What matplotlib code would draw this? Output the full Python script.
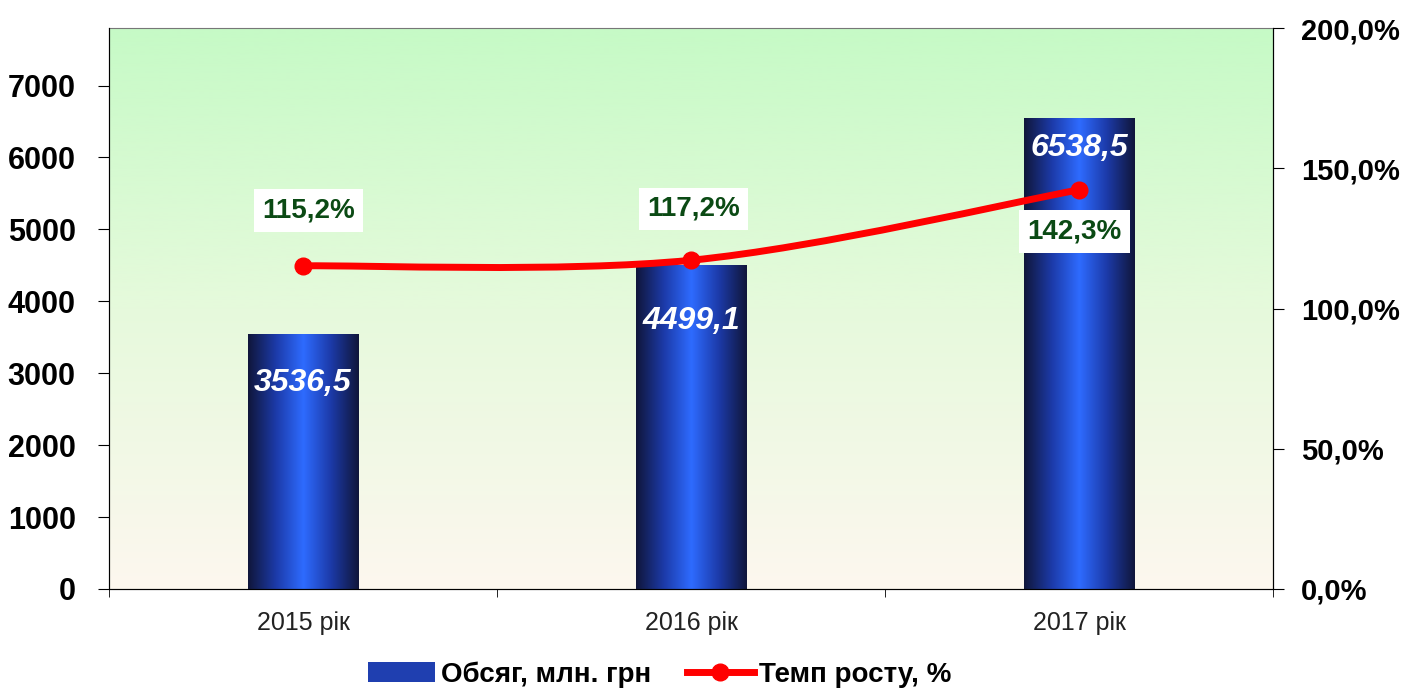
import numpy as np
import matplotlib
matplotlib.use("Agg")
import matplotlib.pyplot as plt
from matplotlib.path import Path
from matplotlib.patches import PathPatch, Patch
from matplotlib.colors import LinearSegmentedColormap
from matplotlib.lines import Line2D

years = ['2015 рік', '2016 рік', '2017 рік']
volume = [3536.5, 4499.1, 6538.5]
growth = [115.2, 117.2, 142.3]
volume_labels = ['3536,5', '4499,1', '6538,5']
growth_labels = ['115,2%', '117,2%', '142,3%']

plt.rcParams['font.family'] = ['Liberation Sans', 'DejaVu Sans']

fig = plt.figure(figsize=(14.1, 6.91), dpi=100)
ax = fig.add_axes([109 / 1410, 1 - 589 / 691, (1273 - 109) / 1410, (589 - 28) / 691])
ax2 = ax.twinx()

x = np.arange(len(years))

# background gradient
bg = LinearSegmentedColormap.from_list('bg', ['#fdf7ef', '#e6fadc', '#c6fac6'])
ax.imshow(np.linspace(0, 1, 256).reshape(-1, 1), cmap=bg, aspect='auto',
          extent=[0, 1, 0, 1], transform=ax.transAxes, origin='lower', zorder=0)

# bars with horizontal gradient
barcm = LinearSegmentedColormap.from_list('bar', ['#10163a', '#1c3aa8', '#2e6bff', '#1c3aa8', '#10163a'])
bars = ax.bar(x, volume, width=0.286, color='none', zorder=2)
grad = np.linspace(0, 1, 256).reshape(1, -1)
for b in bars:
    ax.imshow(grad, cmap=barcm, aspect='auto', zorder=2,
              extent=[b.get_x(), b.get_x() + b.get_width(), 0, b.get_height()])

# value labels inside bars (offset below bar top, in points)
lab_off = [-35, -40, -21]
for xi, v, lab, dy in zip(x, volume, volume_labels, lab_off):
    ax.annotate(lab, (xi, v), xytext=(0, dy), textcoords='offset points',
                ha='center', va='center', color='white',
                fontsize=23, fontweight='bold', style='italic', zorder=5)

ax.set_xlim(-0.5, 2.5)
ax.set_ylim(0, 7800)
ax.set_yticks(range(0, 8000, 1000))
ax.set_xticks(x)
ax.set_xticklabels(years, fontsize=18, color='#222222')
ax.tick_params(axis='y', labelsize=22, length=8, direction='out', pad=16)
ax.tick_params(axis='x', length=0, pad=16)
for t in ax.get_yticklabels():
    t.set_fontweight('bold')
ax.set_xticks([-0.5, 0.5, 1.5, 2.5], minor=True)
ax.tick_params(axis='x', which='minor', length=6)

# growth line, smoothed (bezier through the data points)
ax2.set_ylim(0, 200)
pts = np.column_stack([x, growth]).astype(float)
verts = [tuple(pts[0])]
codes = [Path.MOVETO]
t = 1 / 6
for i in range(len(pts) - 1):
    p0 = pts[i - 1] if i > 0 else pts[i]
    p1, p2 = pts[i], pts[i + 1]
    p3 = pts[i + 2] if i + 2 < len(pts) else pts[i + 1]
    c1 = p1 + (p2 - p0) * t
    c2 = p2 - (p3 - p1) * t
    verts += [tuple(c1), tuple(c2), tuple(p2)]
    codes += [Path.CURVE4] * 3
ax2.add_patch(PathPatch(Path(verts, codes), fill=False, edgecolor='#ff0000', lw=5, zorder=3))
ax2.plot(x, growth, 'o', color='#ff0000', ms=12, zorder=4)

offsets = [(4, 40), (2, 37), (-3, -30)]
for xi, g, lab, (dx, dy) in zip(x, growth, growth_labels, offsets):
    ax2.annotate(lab, (xi, g), xytext=(dx, dy), textcoords='offset points',
                 ha='center', va='center', fontsize=20, fontweight='bold', color='#0b4a14',
                 bbox=dict(boxstyle='square,pad=0.3', fc='white', ec='none'), zorder=6)

ax2.set_yticks(range(0, 201, 50))
ax2.set_yticklabels(['%d,0%%' % v for v in range(0, 201, 50)])
ax2.tick_params(axis='y', labelsize=21, length=8, pad=12)
for tl in ax2.get_yticklabels():
    tl.set_fontweight('bold')

ax.spines['top'].set_color('#777777')
for s in ['left', 'bottom']:
    ax.spines[s].set_color('#333333')
ax2.spines['right'].set_color('black')
ax2.spines['top'].set_visible(False)

handles = [Patch(facecolor='#1f3fb0', edgecolor='none'),
           Line2D([0], [0], color='#ff0000', lw=5, marker='o', ms=12)]
fig.legend(handles, ['Обсяг, млн. грн', 'Темп росту, %'], loc='center',
           bbox_to_anchor=(0.468, 0.024), ncol=2, frameon=False,
           prop={'size': 20, 'weight': 'bold'}, handlelength=2.4, columnspacing=1.3,
           handletextpad=0.2)

fig.savefig('out.png', dpi=100)
